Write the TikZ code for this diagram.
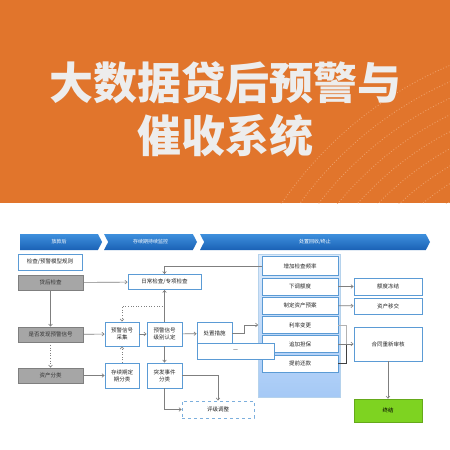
\documentclass[tikz,border=0pt]{standalone}
\usepackage{fontspec}
\setmainfont{Noto Sans CJK SC}
\usepackage{xcolor}
\usepackage{tikz}
\usetikzlibrary{shapes.symbols, arrows.meta, positioning, calc}

\definecolor{banner}{HTML}{E1752C}
\definecolor{arcclr}{HTML}{EE9E66}
\definecolor{boxblue}{HTML}{5B9BD5}
\definecolor{chevtop}{HTML}{3E90DD}
\definecolor{chevbot}{HTML}{1A61B5}
\definecolor{grayfill}{HTML}{A6A6A6}
\definecolor{grayline}{HTML}{7F7F7F}
\definecolor{lineclr}{HTML}{7F7F7F}
\definecolor{endgreen}{HTML}{7ED321}
\definecolor{paneltop}{HTML}{DDEBFB}
\definecolor{panelbot}{HTML}{A5C9F6}

\begin{document}
\begin{tikzpicture}[
    x=1pt, y=-1pt,
    % --- node styles ---
    phase/.style={signal, signal to=east, signal pointer angle=125,
        minimum height=16, inner sep=0pt, top color=chevtop, bottom color=chevbot,
        text=white, font=\fontsize{5}{6}\selectfont},
    gbox/.style={rectangle, minimum width=65, minimum height=15, inner sep=1pt,
        draw=grayline, line width=0.6pt, fill=grayfill, text=black!80,
        font=\fontsize{5.5}{6.5}\selectfont},
    bbox/.style={rectangle, inner sep=1pt, draw=boxblue, line width=0.8pt,
        fill=white, text=black!85, align=center,
        font=\fontsize{5.5}{7}\selectfont},
    dbox/.style={bbox, dashed, draw=boxblue!80},
    item/.style={bbox, minimum width=76, minimum height=17},
    outbox/.style={bbox, minimum width=68, minimum height=17},
    endbox/.style={rectangle, minimum width=68, minimum height=23,
        draw=endgreen!80!black, line width=0.5pt, fill=endgreen,
        font=\fontsize{5.5}{7}\selectfont},
    % --- arrow styles ---
    arr/.style={-{Straight Barb[length=2.2pt, width=3.6pt]}, draw=lineclr, line width=0.6pt},
    ln/.style={draw=lineclr, line width=0.6pt}
]

%%% ================= BACKGROUND / BANNER =================
\useasboundingbox (0,0) rectangle (450,450);
\fill[white] (0,0) rectangle (450,450);
\fill[banner] (0,0) rectangle (450,203);
\begin{scope}
    \clip (250,0) rectangle (450,203);
    \foreach \r in {250,265,...,395}
        \draw[arcclr, dotted, line width=0.9pt] (600,420) circle[radius=\r];
\end{scope}
\node (title) [text=black!7, align=center, font=\fontsize{44}{53}\selectfont\bfseries]
    at (225,109) {大数据贷后预警与\\催收系统};

%%% ================= PHASES =================
\node (ph1) [phase, minimum width=82] at (59,242) {放款后};
\node (ph2) [phase, signal from=west, minimum width=93] at (150.5,242) {存续期持续监控};
\node (ph3) [phase, signal from=west, minimum width=230] at (315,242) {处置回收/终止};

%%% ================= LEFT COLUMN =================
\node (rules)    [bbox, minimum width=64, minimum height=16] at (50,262) {检查/预警模型规则};
\node (postchk)  [gbox] at (50.5,282.5) {贷后检查};
\node (sigfound) [gbox] at (50.5,334.5) {是否发现预警信号};
\node (assetcls) [gbox] at (50.5,375.5) {资产分类};

%%% ================= MIDDLE =================
\node (dailychk) [bbox, minimum width=73, minimum height=15] at (164.5,282) {日常检查/专项检查};
\node (collect)  [bbox, minimum width=34, minimum height=24] at (122,334) {预警信号\\采集};
\node (grade)    [bbox, minimum width=35, minimum height=24] at (164.5,334) {预警信号\\级别认定};
\node (periodic) [bbox, minimum width=34, minimum height=25] at (122,375.5) {存续期定\\期分类};
\node (sudden)   [bbox, minimum width=35, minimum height=25] at (164.5,375.5) {突发事件\\分类};
\node (measure)  [bbox, minimum width=35, minimum height=23] at (214.5,333.5) {处置措施};
\node (rating)   [dbox, minimum width=72, minimum height=17] at (218,409.5) {评级调整};

%%% ================= MEASURES PANEL =================
\node (panel) [rectangle, minimum width=82, minimum height=143, inner sep=0pt,
    draw=boxblue!45, line width=0.6pt, top color=paneltop, bottom color=panelbot]
    at (299.5,325.5) {};
\node (freq)     [item, minimum height=19] at (300,266) {增加检查频率};
\node (cutline)  [item] at (300,286.5) {下调额度};
\node (plan)     [item] at (300,305.5) {制定资产预案};
\node (rate)     [item] at (300,325) {利率变更};
\node (guar)     [item] at (300,344) {追加担保};
\node (prepay)   [item] at (300,363.5) {提前还款};

%%% ================= RIGHT COLUMN =================
\node (freeze)   [outbox] at (388,286.5) {额度冻结};
\node (transfer) [outbox, minimum height=16] at (388,306) {资产移交};
\node (review)   [outbox, minimum height=34] at (388,344) {合同重新审核};
\node (closed)   [endbox] at (388,410.5) {终结};

%%% ================= ARROWS =================
%% Checks
\draw [arr] (postchk) -- (dailychk);
\draw [arr] (freq.west) -| (dailychk.north);
\draw [arr] (grade.north) -- (dailychk.south);
\draw [arr, dotted] (dailychk.south) -- ([yshift=-16pt]dailychk.south) -| (collect.north);
\draw [arr] (postchk) -- (sigfound);
\draw [arr, dotted] (sigfound) -- (assetcls);

%% Signal chain
\draw [arr] (sigfound) -- (collect);
\draw [arr] (collect) -- (grade);
\draw [arr] (grade) -- (measure);
\draw [arr] (measure.east) -- ++(12,0) |- (rate.west -| panel.west);

%% Classification
\draw [arr] (assetcls) -- (periodic);
\draw [arr, dotted] (periodic) -- (collect);
\draw [arr] (grade) -- (sudden);
\draw [arr] (sudden.east) -| (rating.north);
\draw [arr] (sudden.south) |- (rating.west);

%% Measures to outcomes
\draw [arr] (cutline) -- (freeze);
\draw [arr] (plan) -- (transfer);
\draw [ln, draw=lineclr!60] (rate.east) -| ([xshift=8pt]guar.east);
\draw [ln, draw=black!75] (prepay.east) -| ([xshift=8pt]guar.east);
\draw [arr] (guar) -- (review);
\draw [arr] (review) -- (closed);

%% Placeholder box (on top)
\node (dots) [bbox, minimum width=77, minimum height=16] at (235.5,351) {—};

\end{tikzpicture}
\end{document}
